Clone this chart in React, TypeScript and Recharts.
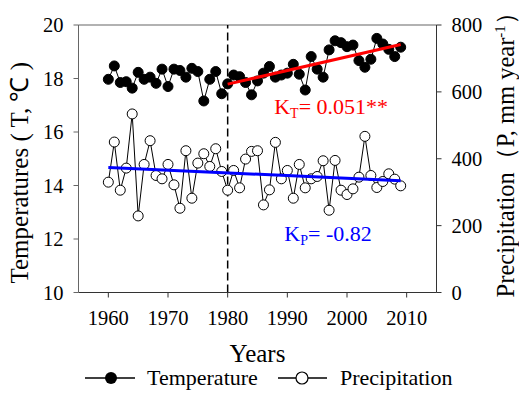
import React from 'react';
import {
  ComposedChart,
  Line,
  XAxis,
  YAxis,
  ReferenceLine,
  ReferenceDot,
  Legend
} from 'recharts';

const years = [
  1960, 1961, 1962, 1963, 1964, 1965, 1966, 1967, 1968, 1969,
  1970, 1971, 1972, 1973, 1974, 1975, 1976, 1977, 1978, 1979,
  1980, 1981, 1982, 1983, 1984, 1985, 1986, 1987, 1988, 1989,
  1990, 1991, 1992, 1993, 1994, 1995, 1996, 1997, 1998, 1999,
  2000, 2001, 2002, 2003, 2004, 2005, 2006, 2007, 2008, 2009
];

// mean annual temperature (°C)
const temperature = [
  17.97, 18.47, 17.85, 17.88, 17.64, 18.23, 17.97, 18.05, 17.82, 18.35,
  17.7, 18.35, 18.3, 18.05, 18.38, 18.26, 17.16, 17.97, 18.26, 17.43,
  17.8, 18.13, 18.07, 17.85, 17.39, 17.91, 18.2, 18.45, 18.05, 18.13,
  18.2, 18.53, 18.16, 17.57, 18.82, 18.35, 18.05, 19.07, 19.41, 19.34,
  19.19, 19.25, 18.67, 18.42, 18.72, 19.5, 19.29, 19.09, 18.82, 19.17
];

// annual precipitation (mm)
const precipitation = [
  330, 450, 306, 372, 534, 229, 383, 454, 350, 340,
  383, 322, 252, 424, 282, 387, 415, 377, 430, 362,
  306, 365, 313, 399, 422, 424, 262, 307, 449, 340,
  365, 282, 383, 313, 340, 347, 394, 246, 395, 306,
  293, 310, 345, 467, 350, 314, 332, 355, 339, 319
];

const trendTYears = [1980, 2009];
const trendTValues = [17.79, 19.27];
const trendPYears = [1960, 2009];
const trendPValues = [374, 334];

const xTicks = [1960, 1970, 1980, 1990, 2000, 2010];
const tTicks = [10, 12, 14, 16, 18, 20];
const pTicks = [0, 200, 400, 600, 800];

const data = years.map((year, i) => ({
  year,
  temp: temperature[i],
  precip: precipitation[i]
}));
const trendT = trendTYears.map((year, i) => ({ x: year, y: trendTValues[i] }));
const trendP = trendPYears.map((year, i) => ({ x: year, y: trendPValues[i] }));

const FONT = '"Liberation Serif", "Times New Roman", serif';
const tickStyle = { fontSize: 20.5, fill: '#000', fontFamily: FONT };

const LegendRow = () => (
  <svg width={519} height={26} style={{ display: 'block' }}>
    <line x1={85} x2={135} y1={12} y2={12} stroke="#000" strokeWidth={1.5} />
    <circle cx={111} cy={12} r={6} fill="#000" />
    <text x={147} y={19} fontSize={22} fontFamily={FONT}>Temperature</text>
    <line x1={278} x2={327} y1={12} y2={12} stroke="#000" strokeWidth={1.5} />
    <circle cx={302} cy={12} r={6} fill="#fff" stroke="#000" strokeWidth={1.2} />
    <text x={340} y={19} fontSize={22} fontFamily={FONT}>Precipitation</text>
  </svg>
);

export default function App() {
  return (
    <div style={{ position: 'absolute', left: 0, top: 0 }}>
      <ComposedChart
        width={519}
        height={393}
        data={data}
        margin={{ top: 25, right: 0, left: 0, bottom: 0 }}
      >
        <XAxis
          dataKey="year"
          type="number"
          domain={[1955, 2015]}
          ticks={xTicks}
          tickSize={5}
          tickMargin={13}
          tick={tickStyle}
          height={100.5}
          stroke="#333"
          label={({ viewBox }: any) => (
            <text
              x={viewBox.x + viewBox.width / 2}
              y={viewBox.y + 69.5}
              textAnchor="middle"
              fontSize={25}
              fontFamily={FONT}
            >
              Years
            </text>
          )}
        />
        <YAxis
          yAxisId="T"
          domain={[10, 20]}
          ticks={tTicks}
          tickSize={5}
          tickMargin={10}
          tick={tickStyle}
          width={78.5}
          stroke="#666"
          label={({ viewBox }: any) => {
            const x = viewBox.x + 28;
            const y = viewBox.y + viewBox.height / 2 + 14;
            return (
              <text
                x={x}
                y={y}
                transform={`rotate(-90, ${x}, ${y})`}
                textAnchor="middle"
                fontSize={25}
                fontFamily={FONT}
              >
                Temperatures ( T, ℃ )
              </text>
            );
          }}
        />
        <YAxis
          yAxisId="P"
          orientation="right"
          domain={[0, 800]}
          ticks={pTicks}
          tickSize={5}
          tickMargin={10}
          tick={tickStyle}
          width={82.5}
          stroke="#333"
          label={({ viewBox }: any) => {
            const x = viewBox.x + 77.5;
            const y = viewBox.y + viewBox.height / 2 - 10;
            return (
              <text
                x={x}
                y={y}
                transform={`rotate(-90, ${x}, ${y})`}
                textAnchor="middle"
                fontSize={24.5}
                fontFamily={FONT}
              >
                Precipitation（P, mm year
                <tspan fontSize={15} dy={-9}>-1</tspan>
                <tspan dy={9}>）</tspan>
              </text>
            );
          }}
        />
        <ReferenceLine yAxisId="T" y={20} stroke="#666" strokeWidth={1.2} />
        <ReferenceLine
          yAxisId="T"
          x={1980}
          stroke="#000"
          strokeWidth={1.5}
          strokeDasharray="8 4"
        />
        <Line
          yAxisId="P"
          dataKey="precip"
          stroke="#000"
          strokeWidth={1}
          dot={{ r: 5, fill: '#fff', stroke: '#000', strokeWidth: 1 }}
          isAnimationActive={false}
        />
        <Line
          yAxisId="T"
          dataKey="temp"
          stroke="#000"
          strokeWidth={1}
          dot={{ r: 5, fill: '#000', stroke: '#000', strokeWidth: 1 }}
          isAnimationActive={false}
        />
        <ReferenceLine
          yAxisId="T"
          segment={trendT}
          stroke="#ff0000"
          strokeWidth={3}
          zIndex={1500}
        />
        <ReferenceLine
          yAxisId="P"
          segment={trendP}
          stroke="#0000ff"
          strokeWidth={3}
          zIndex={1500}
        />
        <ReferenceDot
          yAxisId="T"
          x={1987.8}
          y={16.68}
          r={0}
          label={({ viewBox }: any) => (
            <text x={viewBox.x} y={viewBox.y} fill="#ff0000" fontSize={22} fontFamily={FONT}>
              K<tspan fontSize={14} dy={4}>T</tspan>
              <tspan dy={-4}>= 0.051**</tspan>
            </text>
          )}
        />
        <ReferenceDot
          yAxisId="T"
          x={1989.5}
          y={11.91}
          r={0}
          label={({ viewBox }: any) => (
            <text x={viewBox.x} y={viewBox.y} fill="#0000ff" fontSize={22} fontFamily={FONT}>
              K<tspan fontSize={14} dy={4}>P</tspan>
              <tspan dy={-4}>= -0.82</tspan>
            </text>
          )}
        />
        <Legend
          layout="horizontal"
          verticalAlign="middle"
          align="center"
          wrapperStyle={{ left: 0, top: 366, width: 519 }}
          content={() => <LegendRow />}
        />
      </ComposedChart>
    </div>
  );
}
